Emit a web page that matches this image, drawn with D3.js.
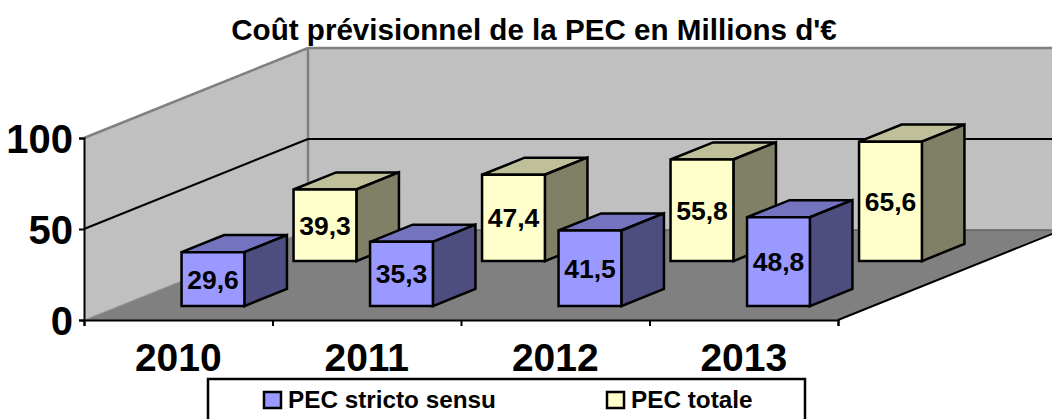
<!DOCTYPE html>
<html>
<head>
<meta charset="utf-8">
<script src="https://cdn.jsdelivr.net/npm/d3@7"></script>
<style>
  html, body { margin: 0; padding: 0; background: #fff; overflow: hidden; }
  text { font-family: "Liberation Sans", Arial, sans-serif; font-weight: bold; fill: #000; }
</style>
</head>
<body>
<div id="chart"></div>
<script>
const categories = ['2010', '2011', '2012', '2013']
const seriesNames = ['PEC stricto sensu', 'PEC totale']
const strictoValues = [29.6, 35.3, 41.5, 48.8]
const totaleValues = [39.3, 47.4, 55.8, 65.6]
const yTicks = [0, 50, 100]

const width = 1052
const height = 419
const plotLeft = 84, plotRight = 838, plotBottom = 320, plotTop = 138
// how far the back of the chart is shifted from the front
const depthX = 224, depthY = -90

const colors = {
  'PEC stricto sensu': {front: '#9999ff', top: '#7373bf', side: '#4d4d80'},
  'PEC totale': {front: '#ffffcc', top: '#bfbf99', side: '#808066'}
}

const svg = d3.select('#chart').append('svg')
  .attr('width', width)
  .attr('height', height)
  .style('display', 'block')

const yScale = d3.scaleLinear().domain([0, 100]).range([plotBottom, plotTop])
const xBand = d3.scaleBand().domain(categories).range([plotLeft, plotRight])
  .paddingInner(2 / 3).paddingOuter(1 / 3)
const xLabel = d3.scaleBand().domain(categories).range([plotLeft, plotRight])
const xEdge = d3.scaleLinear().domain([0, categories.length]).range([plotLeft, plotRight])
const zBand = d3.scaleBand().domain(seriesNames).range([0, 1])
  .paddingInner(0.62).paddingOuter(0.31)

// x, value, z -> screen point
function project(x, v, z) {
  return [x + z * depthX, yScale(v) + z * depthY]
}
const poly = pts => pts.map(p => p.join(',')).join(' ')

const walls = svg.append('g')

walls.append('polygon') // back wall
  .attr('points', poly([project(plotLeft, 100, 1), project(plotRight, 100, 1), project(plotRight, 0, 1), project(plotLeft, 0, 1)]))
  .attr('fill', '#c0c0c0')
walls.append('polygon') // side wall
  .attr('points', poly([project(plotLeft, 100, 0), project(plotLeft, 100, 1), project(plotLeft, 0, 1), project(plotLeft, 0, 0)]))
  .attr('fill', '#c0c0c0')
walls.append('polygon') // floor
  .attr('points', poly([project(plotLeft, 0, 0), project(plotLeft, 0, 1), project(plotRight, 0, 1), project(plotRight, 0, 0)]))
  .attr('fill', '#808080')

function wallLine(a, b, stroke, w) {
  walls.append('line')
    .attr('x1', a[0]).attr('y1', a[1])
    .attr('x2', b[0]).attr('y2', b[1])
    .attr('stroke', stroke).attr('stroke-width', w)
}
wallLine(project(plotLeft, 100, 0), project(plotLeft, 100, 1), '#808080', 2.5)
wallLine(project(plotLeft, 100, 1), project(plotRight, 100, 1), '#808080', 2.5)
wallLine(project(plotLeft, 100, 1), project(plotLeft, 0, 1), '#808080', 2.5)
wallLine(project(plotLeft, 0, 0), project(plotLeft, 0, 1), '#a0a0a0', 1)
wallLine(project(plotLeft, 0, 1), project(plotRight, 0, 1), '#606060', 1.5)

// gridline at 50
yTicks.filter(t => t > 0 && t < 100).forEach(t => {
  wallLine(project(plotLeft, t, 0), project(plotLeft, t, 1), '#000', 2)
  wallLine(project(plotLeft, t, 1), project(plotRight, t, 1), '#000', 2)
})
wallLine(project(plotRight, 0, 0), project(plotRight, 0, 1), '#000', 2)

// axes
const yAxis = d3.axisLeft(yScale).tickValues(yTicks).tickSize(5).tickPadding(6)
const gY = svg.append('g').attr('transform', `translate(${plotLeft},0)`).call(yAxis)
gY.selectAll('text').style('font-size', '40px').attr('dy', '0.35em')
gY.select('.domain').attr('stroke', '#000').attr('stroke-width', 2)
gY.selectAll('line').attr('stroke', '#000').attr('stroke-width', 2)

const edgeAxis = d3.axisBottom(xEdge).ticks(categories.length).tickSize(6).tickFormat('')
const gEdge = svg.append('g').attr('transform', `translate(0,${plotBottom})`).call(edgeAxis)
gEdge.select('.domain').attr('stroke', '#000').attr('stroke-width', 2)
gEdge.selectAll('line').attr('stroke', '#000').attr('stroke-width', 2)

const labelAxis = d3.axisBottom(xLabel).tickSize(0).tickPadding(23)
const gLabel = svg.append('g').attr('transform', `translate(0,${plotBottom})`).call(labelAxis)
gLabel.select('.domain').remove()
gLabel.selectAll('text').style('font-size', '39px')

// bars, back row first
function drawBars(name, values) {
  const c = colors[name]
  const z0 = zBand(name)
  const z1 = z0 + zBand.bandwidth()
  const g = svg.append('g')
  categories.forEach((cat, i) => {
    const x0 = xBand(cat)
    const x1 = x0 + xBand.bandwidth()
    const v = values[i]
    const bar = g.append('g')
      .attr('stroke', '#000').attr('stroke-width', 2.5).attr('stroke-linejoin', 'miter')
    bar.append('polygon')
      .attr('points', poly([project(x0, v, z0), project(x0, v, z1), project(x1, v, z1), project(x1, v, z0)]))
      .attr('fill', c.top)
    bar.append('polygon')
      .attr('points', poly([project(x1, v, z0), project(x1, v, z1), project(x1, 0, z1), project(x1, 0, z0)]))
      .attr('fill', c.side)
    bar.append('polygon')
      .attr('points', poly([project(x0, v, z0), project(x1, v, z0), project(x1, 0, z0), project(x0, 0, z0)]))
      .attr('fill', c.front)
    const mid = project((x0 + x1) / 2, v / 2, z0)
    g.append('text')
      .attr('x', mid[0]).attr('y', mid[1])
      .attr('dy', '0.36em')
      .attr('text-anchor', 'middle')
      .style('font-size', '26.5px')
      .text(String(v).replace('.', ','))
  })
}
drawBars('PEC totale', totaleValues)
drawBars('PEC stricto sensu', strictoValues)

// title
svg.append('text')
  .attr('x', 534).attr('y', 40)
  .attr('text-anchor', 'middle')
  .style('font-size', '29.6px')
  .text("Coût prévisionnel de la PEC en Millions d'€")

// legend
const legend = svg.append('g')
legend.append('rect')
  .attr('x', 208).attr('y', 379)
  .attr('width', 597).attr('height', 60)
  .attr('fill', '#fff').attr('stroke', '#000').attr('stroke-width', 2.5)
const legendX = d3.scaleOrdinal().domain(seriesNames).range([264, 607])
seriesNames.forEach(name => {
  legend.append('rect')
    .attr('x', legendX(name)).attr('y', 392)
    .attr('width', 17).attr('height', 16)
    .attr('fill', colors[name].front)
    .attr('stroke', '#000').attr('stroke-width', 2.5)
  legend.append('text')
    .attr('x', legendX(name) + 24).attr('y', 408)
    .style('font-size', '24.3px')
    .text(name)
})
</script>
</body>
</html>
